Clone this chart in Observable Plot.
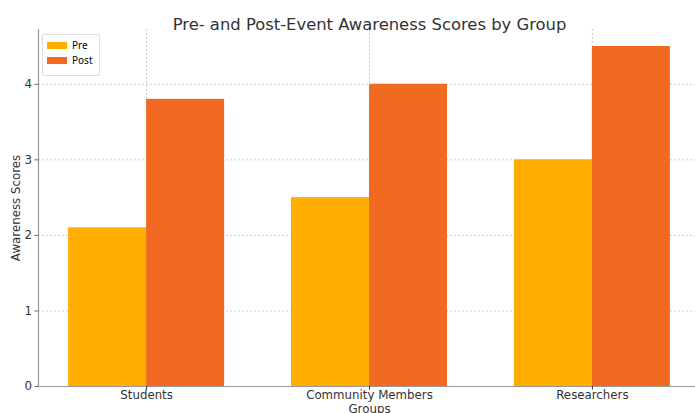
<!DOCTYPE html>
<html><head>
<meta charset="utf-8">
<script src="https://cdn.jsdelivr.net/npm/d3@7"></script>
<script src="https://cdn.jsdelivr.net/npm/@observablehq/plot@0.6"></script>
<style>
body{margin:0;background:#fff;}
#wrap{position:relative;width:695px;height:413px;overflow:hidden;}
#wrap svg{font-family:"DejaVu Sans",sans-serif;}
#legend{position:absolute;left:42px;top:34px;border:1px solid #ddd;border-radius:2px;background:#fff;padding:3px 6px 2px 4px;}
#legend .lg{font-family:"DejaVu Sans",sans-serif;font-size:9px;color:#333;}
</style>
</head><body>
<div id="wrap"><div id="legend"></div></div>
<script>
const groups = ["Students", "Community Members", "Researchers"];
const preScores = [2.1, 2.5, 3.0];
const postScores = [3.8, 4.0, 4.5];
const series = ["Pre", "Post"];
const colors = ["#FFAD00", "#F26A21"];
const yTicks = [0, 1, 2, 3, 4];
const barWidth = 0.35;
const xDomain = [-0.485, 2.485];
const yDomain = [0, 4.725];

const rows = [];
groups.forEach((g, i) => {
  rows.push({group: g, series: "Pre", value: preScores[i], x1: i - barWidth, x2: i});
  rows.push({group: g, series: "Post", value: postScores[i], x1: i, x2: i + barWidth});
});
const idx = groups.map((_, i) => i);

const chart = Plot.plot({
  width: 695, height: 413,
  marginTop: 29, marginBottom: 27, marginLeft: 38, marginRight: 0,
  style: {background: "#fff", color: "#333", fontFamily: "DejaVu Sans"},
  x: {domain: xDomain, range: [38, 700]},
  y: {domain: yDomain},
  color: {domain: series, range: colors},
  marks: [
    Plot.gridY(yTicks, {stroke: "#ccc", strokeOpacity: 1, strokeDasharray: "2,2"}),
    Plot.gridX(idx, {stroke: "#ccc", strokeOpacity: 1, strokeDasharray: "2,2"}),
    Plot.rectY(rows, {x1: "x1", x2: "x2", y: "value", fill: "series"}),
    Plot.ruleY([0], {stroke: "#999", strokeWidth: 1.2}),
    Plot.ruleX([xDomain[0]], {stroke: "#999", strokeWidth: 1.2}),
    Plot.axisX(idx, {tickFormat: i => groups[i], tickSize: 3.5, tickPadding: 1, fontSize: 11.8, label: null, stroke: "#333"}),
    Plot.axisY(yTicks, {tickFormat: d => String(d), tickSize: 3.5, tickPadding: 3, fontSize: 11.8, label: null, stroke: "#666"}),
    Plot.text(["Groups"], {x: 1, frameAnchor: "bottom", dy: 26, fontSize: 11.8, fill: "#333"}),
    Plot.text(["Awareness Scores"], {frameAnchor: "left", textAnchor: "middle", dx: -22, rotate: -90, fontSize: 11.8, fill: "#333"}),
    Plot.text(["Pre- and Post-Event Awareness Scores by Group"], {x: 1, frameAnchor: "top", dy: -11, fontSize: 16.4, fill: "#333"})
  ]
});
document.getElementById("wrap").prepend(chart);

const leg = Plot.legend({
  color: {domain: series, range: colors},
  legend: "swatches", columns: 1, swatchWidth: 20, swatchHeight: 7, className: "lg"
});
document.getElementById("legend").append(leg);
</script>
</body></html>
